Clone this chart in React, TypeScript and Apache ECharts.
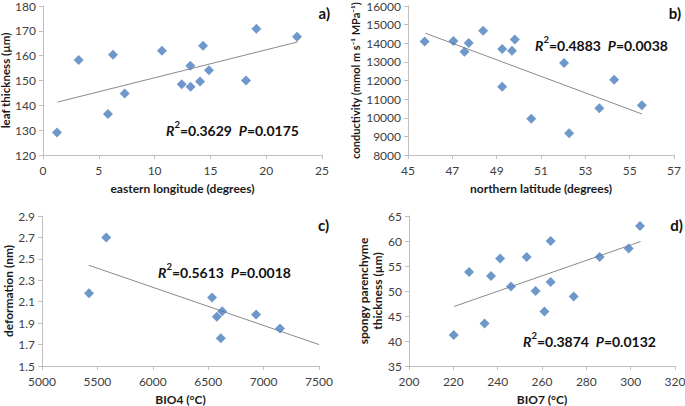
import React, { useEffect, useRef } from "react";
import * as echarts from "echarts";

const FONT = "Lato, 'Open Sans', sans-serif";
const BLUE = "#4a7ebb";
const AXIS_GRAY = "#bfbfbf";
const TEXT = "#404040";

// Panel a) leaf thickness vs eastern longitude
const aLongitude = [1.25, 3.2, 5.82, 6.27, 7.32, 10.66, 12.43, 13.2, 13.23, 14.07, 14.34, 14.87, 18.19, 19.12, 22.76];
const aThickness = [129.1, 158.3, 136.5, 160.4, 144.8, 162.0, 148.5, 155.9, 147.5, 149.6, 164.0, 154.1, 150.0, 170.8, 167.6];
const aTrendX = [1.3, 22.8];
const aTrendY = [141.3, 165.5];

// Panel b) conductivity vs northern latitude
const bLatitude = [45.75, 47.05, 47.55, 47.74, 48.39, 49.25, 49.25, 49.69, 49.82, 50.56, 52.04, 52.27, 53.63, 54.3, 55.55];
const bConductivity = [14100, 14120, 13550, 14010, 14670, 13690, 11660, 13600, 14200, 9940, 12940, 9170, 10510, 12040, 10670];
const bTrendX = [45.78, 55.56];
const bTrendY = [14540, 10200];
const bXTicks = [45, 47, 49, 51, 53, 55, 57];

// Panel c) deformation vs BIO4
const cBio4 = [5424, 5580, 6535, 6578, 6626, 6614, 6932, 7148];
const cDeformation = [2.18, 2.7, 2.14, 1.96, 2.01, 1.76, 1.98, 1.85];
const cTrendX = [5424, 7500];
const cTrendY = [2.44, 1.7];
const cYTicks = [1.5, 1.7, 1.9, 2.1, 2.3, 2.5, 2.7, 2.9];

// Panel d) spongy parenchyme thickness vs BIO7
const dBio7 = [220.2, 227.1, 234.1, 237.0, 241.1, 246.0, 253.1, 257.1, 261.1, 263.9, 263.9, 274.3, 286.0, 299.1, 304.2];
const dSpongy = [41.2, 53.8, 43.5, 53.0, 56.5, 50.9, 56.8, 50.0, 45.9, 60.0, 51.8, 48.9, 56.8, 58.5, 63.0];
const dTrendX = [220.3, 304.5];
const dTrendY = [46.9, 59.9];

const stats = [
  { r2: "0.3629", p: "0.0175" },
  { r2: "0.4883", p: "0.0038" },
  { r2: "0.5613", p: "0.0018" },
  { r2: "0.3874", p: "0.0132" },
];
const panelLabels = ["a)", "b)", "c)", "d)"];

const zip = (xs: number[], ys: number[]) => xs.map((x, i) => [x, ys[i]]);

const NAME_STYLE = { fontFamily: FONT, fontSize: 12, fontWeight: "bold" as const, color: "#1a1a1a" };

function axisBase(gridIndex: number) {
  return {
    type: "value" as const,
    gridIndex,
    axisLine: { show: true, lineStyle: { color: AXIS_GRAY, width: 1 } },
    axisTick: { show: true, inside: false, length: 4, lineStyle: { color: AXIS_GRAY } },
    splitLine: { show: false },
    nameLocation: "middle" as const,
    nameTextStyle: { ...NAME_STYLE },
  };
}

export default function App() {
  const ref = useRef<HTMLDivElement>(null);
  useEffect(() => {
    const chart = echarts.init(ref.current!, null, { renderer: "svg" });
    const plain = (v: number) => String(v);
    const label = (margin: number, fmt: (v: number) => string = plain) => ({
      color: TEXT,
      fontFamily: FONT,
      fontSize: 12,
      margin,
      formatter: fmt,
    });

    const grids = [
      { left: 43, top: 6, width: 279, height: 149 },
      { left: 408, top: 6, width: 266, height: 149 },
      { left: 42, top: 216, width: 277, height: 150 },
      { left: 409, top: 216, width: 266, height: 150 },
    ].map((g) => ({ ...g, containLabel: false, outerBoundsMode: "none" }));

    const xAxes = [
      { ...axisBase(0), min: 0, max: 25, interval: 5, name: "eastern longitude (degrees)", nameGap: 27, axisLabel: label(9) },
      {
        ...axisBase(1), min: 45, max: 57, name: "northern latitude (degrees)", nameGap: 27,
        axisLabel: { ...label(9), customValues: bXTicks },
        axisTick: { ...axisBase(1).axisTick, customValues: bXTicks },
      },
      { ...axisBase(2), min: 5000, max: 7500, interval: 500, name: "BIO4 (°C)", nameGap: 27, axisLabel: label(9) },
      { ...axisBase(3), min: 200, max: 320, interval: 20, name: "BIO7 (°C)", nameGap: 27, axisLabel: label(9) },
    ];

    const yAxes = [
      {
        ...axisBase(0), min: 120, max: 180, interval: 10, name: "leaf thickness (µm)", nameGap: 27, axisLabel: label(7),
        nameTextStyle: { ...NAME_STYLE, fontSize: 11.5 },
      },
      {
        ...axisBase(1), min: 8000, max: 16000, interval: 1000,
        name: "conductivity (mmol m s⁻¹ MPa⁻¹)", nameGap: 47, axisLabel: label(7),
        nameTextStyle: { ...NAME_STYLE, fontSize: 11 },
      },
      {
        ...axisBase(2), min: 1.5, max: 2.9, name: "deformation (nm)", nameGap: 25,
        axisLabel: { ...label(7, (v: number) => v.toFixed(1)), customValues: cYTicks },
        axisTick: { ...axisBase(2).axisTick, customValues: cYTicks },
      },
      {
        ...axisBase(3), min: 35, max: 65, interval: 5, name: "spongy parenchyme\nthickness (µm)", nameGap: 25,
        axisLabel: label(7),
        nameTextStyle: { ...NAME_STYLE, lineHeight: 14 },
      },
    ];

    const scatter = (i: number, xs: number[], ys: number[]) => ({
      type: "scatter" as const,
      xAxisIndex: i,
      yAxisIndex: i,
      data: zip(xs, ys),
      symbol: "diamond",
      symbolSize: 10,
      itemStyle: { color: BLUE },
      z: 3,
    });
    const trend = (i: number, xs: number[], ys: number[]) => ({
      type: "line" as const,
      xAxisIndex: i,
      yAxisIndex: i,
      data: zip(xs, ys),
      showSymbol: false,
      symbol: "none",
      lineStyle: { color: "#8a8a8a", width: 1 },
      z: 2,
      silent: true,
    });

    const statPos = [
      [166, 128],
      [535, 43],
      [158, 270],
      [523, 339],
    ];
    const labelPos = [
      [330, 13],
      [681, 13],
      [329, 225],
      [683, 225],
    ];
    const richStat = {
      i: { fontFamily: FONT, fontSize: 14, fontWeight: "bold", fontStyle: "italic", fill: "#111", lineHeight: 18, verticalAlign: "bottom" },
      b: { fontFamily: FONT, fontSize: 14, fontWeight: "bold", fill: "#111", lineHeight: 18, verticalAlign: "bottom" },
      s: { fontFamily: FONT, fontSize: 9.5, fontWeight: "bold", fill: "#111", lineHeight: 18, verticalAlign: "top" },
    };

    const graphics: any[] = [];
    stats.forEach((s, k) => {
      graphics.push({
        type: "text",
        x: statPos[k][0],
        y: statPos[k][1],
        style: {
          text: `{i|R}{s|2}{b|=${s.r2}  }{i|P}{b|=${s.p}}`,
          rich: richStat,
          verticalAlign: "middle",
          align: "left",
        },
      });
      graphics.push({
        type: "text",
        x: labelPos[k][0],
        y: labelPos[k][1],
        style: {
          text: panelLabels[k],
          fontFamily: FONT,
          fontSize: 15,
          fontWeight: "bold",
          fill: "#111",
          align: "right",
          verticalAlign: "middle",
        },
      });
    });

    chart.setOption({
      animation: false,
      backgroundColor: "#ffffff",
      textStyle: { fontFamily: FONT },
      grid: grids,
      xAxis: xAxes,
      yAxis: yAxes,
      series: [
        trend(0, aTrendX, aTrendY),
        scatter(0, aLongitude, aThickness),
        trend(1, bTrendX, bTrendY),
        scatter(1, bLatitude, bConductivity),
        trend(2, cTrendX, cTrendY),
        scatter(2, cBio4, cDeformation),
        trend(3, dTrendX, dTrendY),
        scatter(3, dBio7, dSpongy),
      ],
      graphic: graphics,
    });
    return () => chart.dispose();
  }, []);
  return <div ref={ref} style={{ position: "absolute", left: 0, top: 0, width: 685, height: 406 }} />;
}
